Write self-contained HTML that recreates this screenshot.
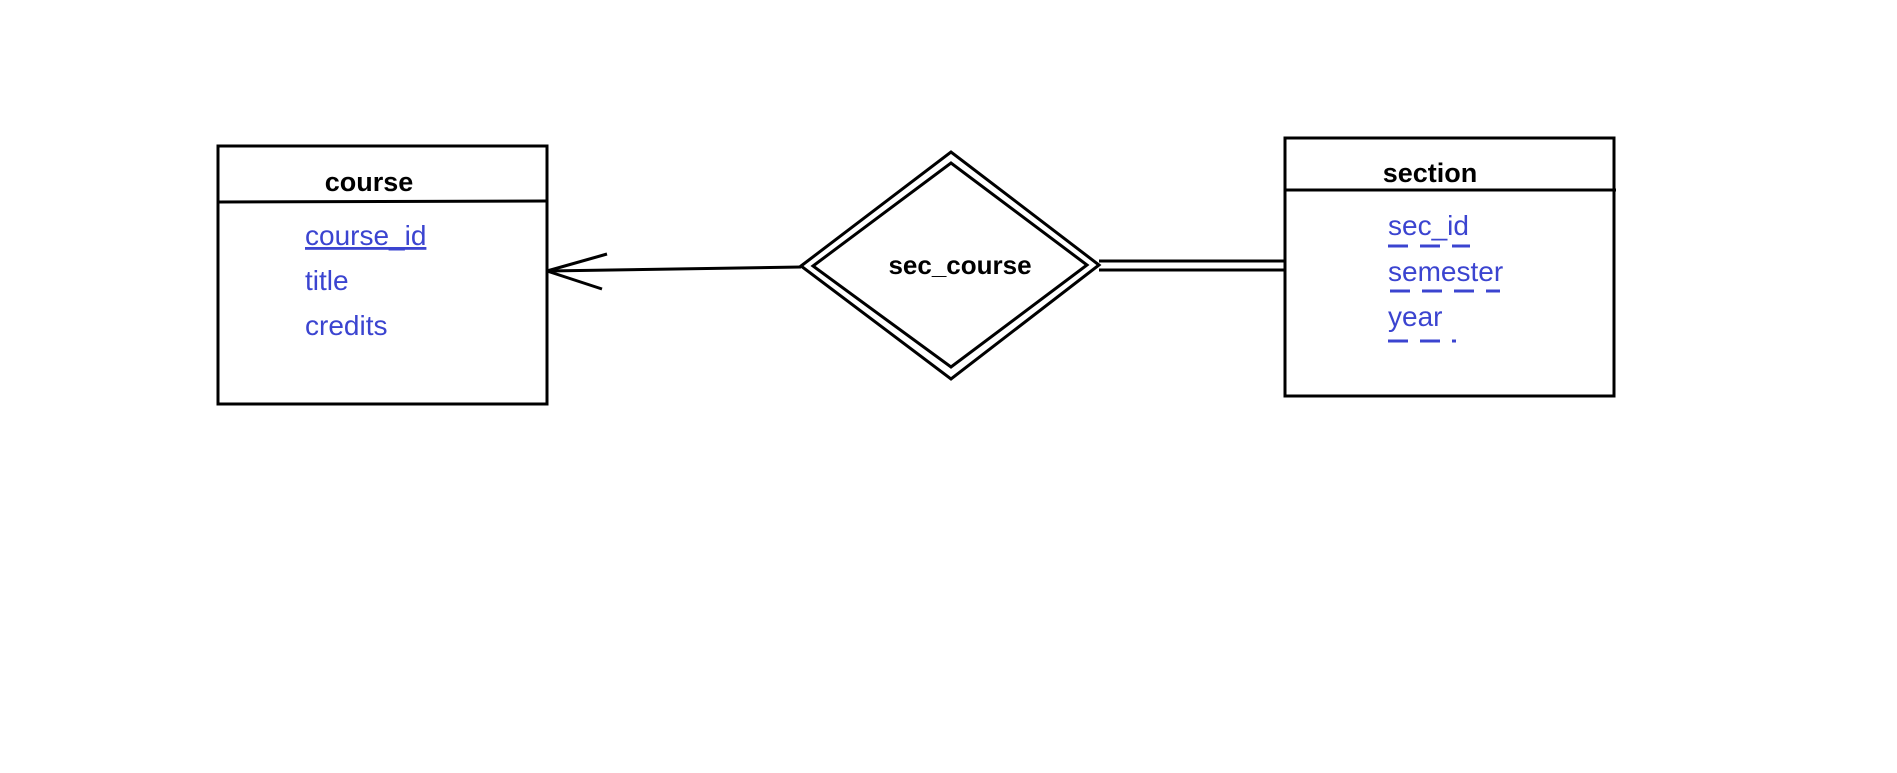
<!DOCTYPE html>
<html><head><style>
html,body{margin:0;padding:0;background:#fff;width:1897px;height:773px;overflow:hidden}
</style></head><body>
<svg width="1897" height="773" xmlns="http://www.w3.org/2000/svg" font-family="'Liberation Sans','DejaVu Sans',sans-serif">
<g stroke="#000" stroke-width="3" fill="none">
<rect x="218" y="146" width="329" height="258"/>
<line x1="218" y1="202" x2="547" y2="201"/>
<rect x="1285" y="138" width="329" height="258"/>
<line x1="1285" y1="190" x2="1616" y2="190"/>
<line x1="547" y1="271" x2="801" y2="267"/>
<line x1="547" y1="271" x2="607" y2="254"/>
<line x1="547" y1="271" x2="602" y2="289"/>
<polygon points="801,266 951,152 1099,265 951,379"/>
<polygon points="813,266 951,163 1087,265 951,367"/>
<line x1="1099" y1="261" x2="1285" y2="261"/>
<line x1="1099" y1="270" x2="1285" y2="270"/>
</g>
<g font-weight="bold" font-size="27" fill="#000" text-anchor="middle">
<text x="369" y="191">course</text>
<text x="1430" y="182">section</text>
<text x="960" y="274" font-size="26">sec_course</text>
</g>
<g font-size="28" fill="#3b44d0">
<text x="305" y="245" text-decoration="underline">course_id</text>
<text x="305" y="290">title</text>
<text x="305" y="335">credits</text>
<text x="1388" y="235">sec_id</text>
<text x="1388" y="281">semester</text>
<text x="1388" y="326">year</text>
</g>
<g stroke="#3b44d0" stroke-width="3">
<line x1="1388" y1="246" x2="1470" y2="246" stroke-dasharray="20,12"/>
<line x1="1390" y1="291" x2="1500" y2="291" stroke-dasharray="20,12"/>
<line x1="1388" y1="341" x2="1456" y2="341" stroke-dasharray="20,12"/>
</g>
</svg>
</body></html>
